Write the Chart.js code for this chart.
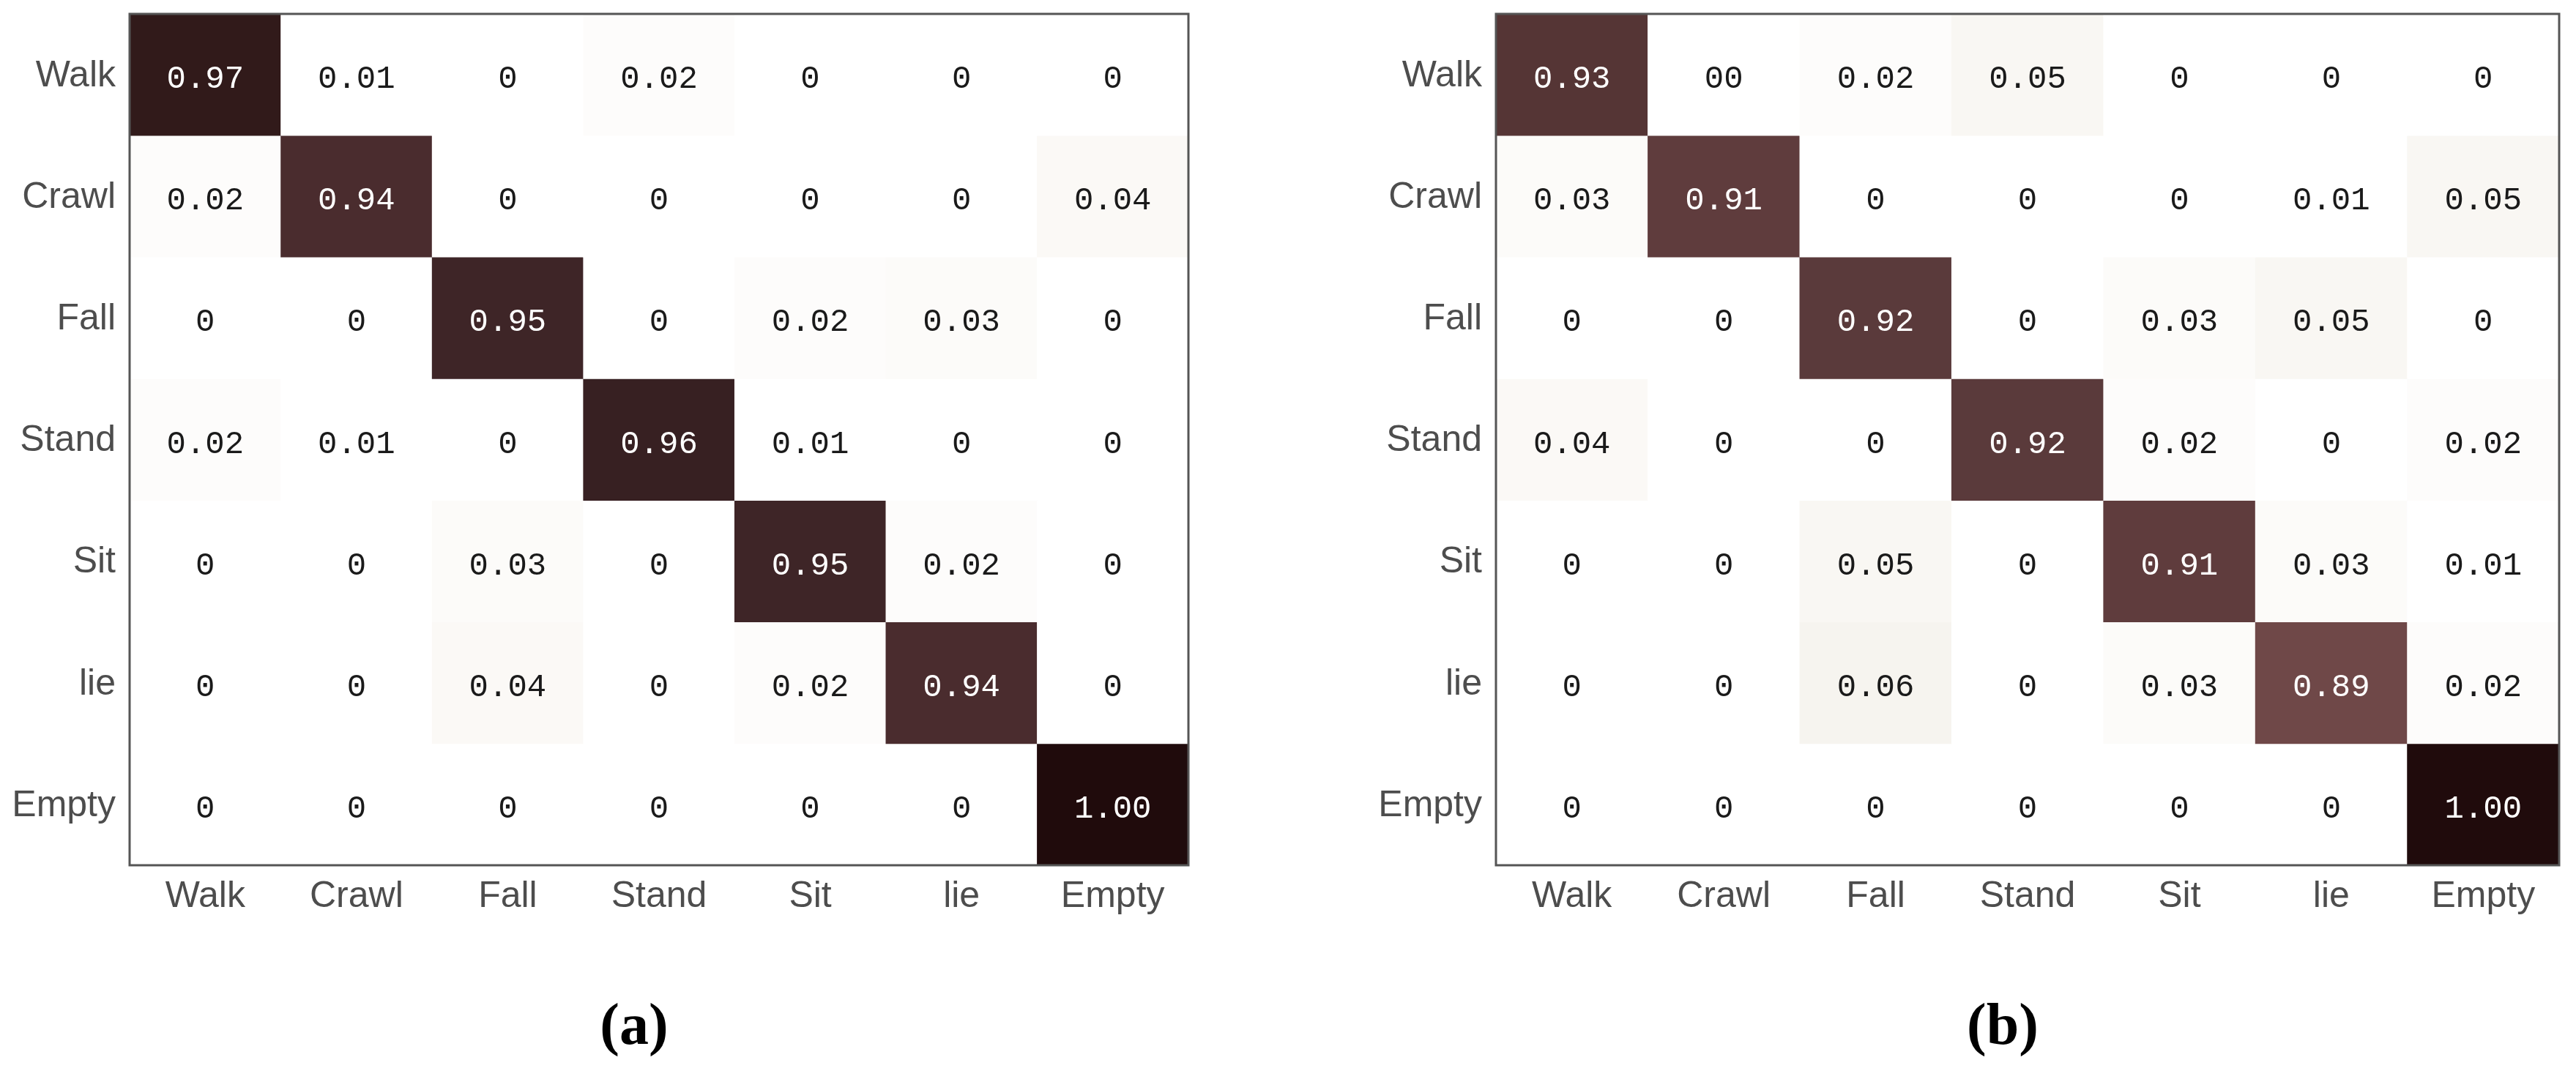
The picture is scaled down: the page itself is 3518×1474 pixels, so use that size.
<!DOCTYPE html>
<html><head><meta charset="utf-8">
<script src="https://cdn.jsdelivr.net/npm/chart.js@4.4.1/dist/chart.umd.min.js"></script>
<style>
html,body{margin:0;padding:0;background:#fff;overflow:hidden;width:3518px;height:1474px;}
#wrap{position:relative;width:3518px;height:1474px;overflow:hidden;background:#fff;}
canvas{position:absolute;top:0;}
</style></head><body>
<div id="wrap">
<canvas id="ca" width="1732" height="1474" style="left:0px"></canvas>
<canvas id="cb" width="2006" height="1474" style="left:1732px"></canvas>
</div>
<script>
// ---------- data ----------
const classes = ['Walk', 'Crawl', 'Fall', 'Stand', 'Sit', 'lie', 'Empty'];

const matrixA = [
  [0.97, 0.01, 0,    0.02, 0,    0,    0   ],
  [0.02, 0.94, 0,    0,    0,    0,    0.04],
  [0,    0,    0.95, 0,    0.02, 0.03, 0   ],
  [0.02, 0.01, 0,    0.96, 0.01, 0,    0   ],
  [0,    0,    0.03, 0,    0.95, 0.02, 0   ],
  [0,    0,    0.04, 0,    0.02, 0.94, 0   ],
  [0,    0,    0,    0,    0,    0,    1.00]
];
const labelsA = [
  ['0.97', '0.01', '0',    '0.02', '0',    '0',    '0'   ],
  ['0.02', '0.94', '0',    '0',    '0',    '0',    '0.04'],
  ['0',    '0',    '0.95', '0',    '0.02', '0.03', '0'   ],
  ['0.02', '0.01', '0',    '0.96', '0.01', '0',    '0'   ],
  ['0',    '0',    '0.03', '0',    '0.95', '0.02', '0'   ],
  ['0',    '0',    '0.04', '0',    '0.02', '0.94', '0'   ],
  ['0',    '0',    '0',    '0',    '0',    '0',    '1.00']
];

const matrixB = [
  [0.93, 0,    0.02, 0.05, 0,    0,    0   ],
  [0.03, 0.91, 0,    0,    0,    0.01, 0.05],
  [0,    0,    0.92, 0,    0.03, 0.05, 0   ],
  [0.04, 0,    0,    0.92, 0.02, 0,    0.02],
  [0,    0,    0.05, 0,    0.91, 0.03, 0.01],
  [0,    0,    0.06, 0,    0.03, 0.89, 0.02],
  [0,    0,    0,    0,    0,    0,    1.00]
];
const labelsB = [
  ['0.93', '00',   '0.02', '0.05', '0',    '0',    '0'   ],
  ['0.03', '0.91', '0',    '0',    '0',    '0.01', '0.05'],
  ['0',    '0',    '0.92', '0',    '0.03', '0.05', '0'   ],
  ['0.04', '0',    '0',    '0.92', '0.02', '0',    '0.02'],
  ['0',    '0',    '0.05', '0',    '0.91', '0.03', '0.01'],
  ['0',    '0',    '0.06', '0',    '0.03', '0.89', '0.02'],
  ['0',    '0',    '0',    '0',    '0',    '0',    '1.00']
];

const captionA = '(a)';
const captionB = '(b)';

// ---------- style ----------
const colorStops = [
  [0, [255,255,255]], [0.01, [255,255,255]], [0.02, [253,252,251]],
  [0.04, [251,249,246]], [0.06, [246,244,239]], [0.89, [111,72,72]],
  [0.91, [95,60,61]], [0.92, [90,58,59]], [0.93, [85,53,53]],
  [0.94, [74,44,46]], [0.95, [62,37,39]], [0.96, [55,32,34]],
  [0.97, [49,26,26]], [1, [32,11,12]]
];
function cmap(v) {
  for (let i = 1; i < colorStops.length; i++) {
    const [v1, c1] = colorStops[i];
    const [v0, c0] = colorStops[i - 1];
    if (v <= v1) {
      const t = (v - v0) / (v1 - v0 || 1);
      const c = c0.map((a, k) => Math.round(a + (c1[k] - a) * t));
      return 'rgb(' + c.join(',') + ')';
    }
  }
  return 'rgb(32,11,12)';
}

const frameAndText = {
  id: 'frameAndText',
  afterDatasetsDraw(chart, args, opts) {
    const ctx = chart.ctx;
    const m = opts.matrix, lab = opts.labels;
    ctx.save();
    ctx.font = '44px "Liberation Mono", "Courier New", monospace';
    ctx.textAlign = 'center';
    ctx.textBaseline = 'alphabetic';
    chart.data.datasets.forEach((ds, r) => {
      const meta = chart.getDatasetMeta(r);
      meta.data.forEach((el, c) => {
        const p = el.getCenterPoint();
        ctx.fillStyle = m[r][c] > 0.5 ? '#ffffff' : '#1a1a1a';
        ctx.fillText(lab[r][c], p.x, p.y + 18);
      });
    });
    const a = chart.chartArea;
    ctx.strokeStyle = '#555555';
    ctx.lineWidth = 3;
    ctx.strokeRect(a.left, a.top, a.right - a.left, a.bottom - a.top);
    ctx.restore();
  }
};

function makeChart(id, matrix, labels, caption, leftW, rightW) {
  const datasets = classes.map((rowName, r) => ({
    label: rowName,
    data: classes.map(() => [r - 0.5, r + 0.5]),
    backgroundColor: ctx => cmap(matrix[r][ctx.dataIndex]),
    borderWidth: 0,
    barPercentage: 1,
    categoryPercentage: 1,
    grouped: false
  }));
  return new Chart(document.getElementById(id), {
    type: 'bar',
    data: { labels: classes, datasets },
    options: {
      responsive: false,
      devicePixelRatio: 1,
      animation: false,
      layout: { padding: { top: 19, bottom: 11, left: 0, right: 0 } },
      plugins: {
        legend: { display: false },
        tooltip: { enabled: false },
        title: {
          display: true,
          position: 'bottom',
          text: caption,
          color: '#000000',
          font: { family: '"Liberation Serif", "Times New Roman", serif', size: 80, weight: 'bold' },
          padding: { top: 10, bottom: 10 }
        },
        frameAndText: { matrix, labels }
      },
      scales: {
        x: {
          type: 'category',
          offset: true,
          grid: { display: false, drawTicks: false },
          border: { display: false },
          ticks: {
            color: '#4d4d4d',
            padding: 13,
            maxRotation: 0,
            font: { family: '"Liberation Sans", Arial, sans-serif', size: 50 }
          },
          afterFit: s => { s.height = 165; s.paddingLeft = 0; s.paddingRight = 0; }
        },
        y: {
          type: 'linear',
          min: -0.5,
          max: 6.5,
          reverse: true,
          grid: { display: false, drawTicks: false },
          border: { display: false },
          afterBuildTicks: s => { s.ticks = classes.map((_, i) => ({ value: i })); },
          ticks: {
            color: '#4d4d4d',
            padding: 19,
            labelOffset: 2,
            font: { family: '"Liberation Sans", Arial, sans-serif', size: 50 },
            callback: v => classes[v]
          },
          afterFit: s => { s.width = leftW; s.paddingTop = 0; s.paddingBottom = 0; }
        },
        yr: {
          type: 'linear',
          position: 'right',
          display: true,
          grid: { display: false, drawTicks: false },
          border: { display: false },
          ticks: { display: false },
          afterFit: s => { s.width = rightW; s.paddingTop = 0; s.paddingBottom = 0; }
        }
      }
    },
    plugins: [frameAndText]
  });
}

makeChart('ca', matrixA, labelsA, captionA, 177, 109);
makeChart('cb', matrixB, labelsB, captionB, 311, 243);
</script>
</body></html>
